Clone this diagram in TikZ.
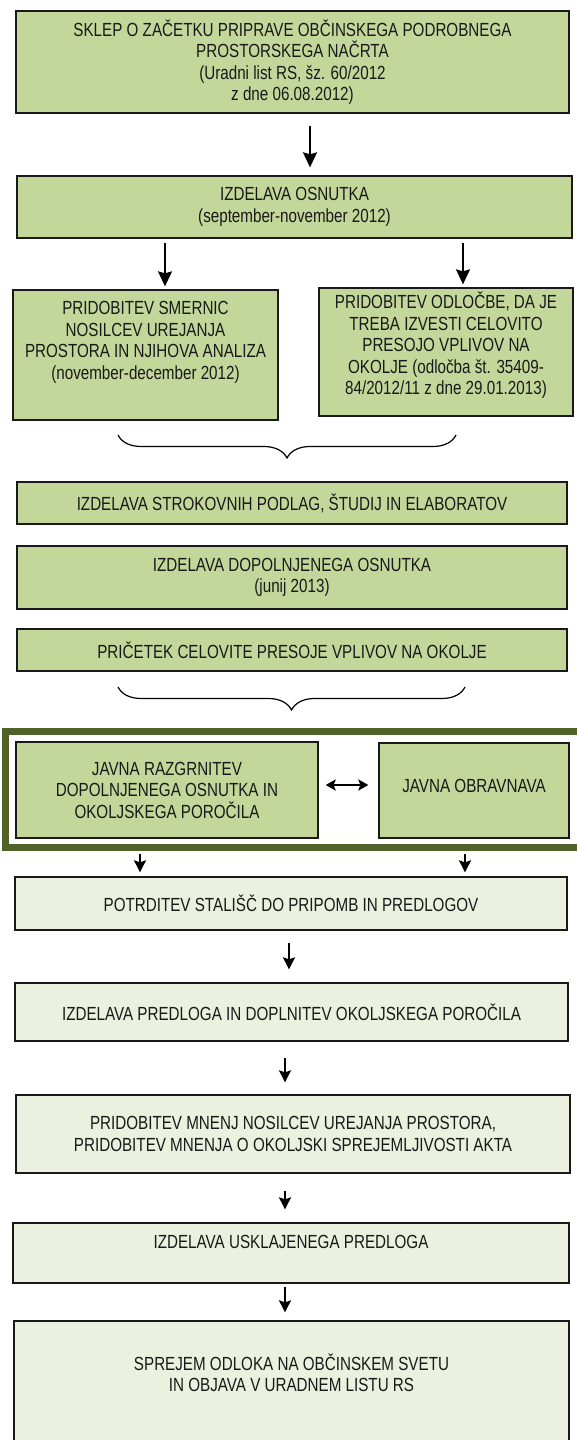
\documentclass[tikz,border=0pt]{standalone}
\usepackage{fontspec}
\setmainfont{Liberation Sans}[FakeStretch=0.8]
\usetikzlibrary{arrows.meta,decorations.pathreplacing}
\definecolor{zelena}{RGB}{196,215,155}
\definecolor{svetla}{RGB}{235,241,222}
\definecolor{okvir}{RGB}{79,98,40}
\definecolor{rob}{RGB}{25,25,25}
\begin{document}
\begin{tikzpicture}[x=1pt,y=-1pt,
    korak/.style={draw=rob,line width=1.3pt,fill=zelena,align=center,inner sep=0pt,
      text=rob,font=\fontsize{19}{21.5}\selectfont},
    svetel/.style={korak,fill=svetla},
    puscica/.style={-{Stealth[length=12pt,width=12pt,inset=2pt]},line width=2pt},
    velika/.style={puscica,-{Stealth[length=15pt,width=14pt,inset=2pt]}},
    dvojna/.style={{Stealth[length=10pt,width=11pt,inset=2pt]}-{Stealth[length=10pt,width=11pt,inset=2pt]},line width=2pt},
    zavit/.style={decorate,decoration={brace,amplitude=23pt},line width=1.2pt}]
    \useasboundingbox (0,0) rectangle (576,1440);

    \node[korak,minimum width=553pt,minimum height=102pt] (sklep) at (292.5,62)
        {SKLEP O ZAČETKU PRIPRAVE OBČINSKEGA PODROBNEGA\\ PROSTORSKEGA NAČRTA\\
         (Uradni list RS, šz. 60/2012\\ z dne 06.08.2012)};
    \node[korak,minimum width=555pt,minimum height=62pt] (osnutek) at (294.5,207)
        {IZDELAVA OSNUTKA\\ (september-november 2012)};
    \node[korak,minimum width=265pt,minimum height=130pt] (smernice) at (145.5,355)
        {PRIDOBITEV SMERNIC\\ NOSILCEV UREJANJA\\ PROSTORA IN NJIHOVA ANALIZA\\
         (november-december 2012)\\[8pt] \mbox{}};
    \node[korak,minimum width=254pt,minimum height=128pt] (odlocba) at (446,352)
        {PRIDOBITEV ODLOČBE, DA JE\\ TREBA IZVESTI CELOVITO\\ PRESOJO VPLIVOV NA\\
         OKOLJE (odločba št. 35409-\\ 84/2012/11 z dne 29.01.2013)\\[-4pt] \mbox{}};
    \node[korak,minimum width=550pt,minimum height=42pt] (podlage) at (292,503)
        {IZDELAVA STROKOVNIH PODLAG, ŠTUDIJ IN ELABORATOV};
    \node[korak,minimum width=550pt,minimum height=63pt] (dopolnjen) at (292,577.5)
        {IZDELAVA DOPOLNJENEGA OSNUTKA\\ (junij 2013)};
    \node[korak,minimum width=550pt,minimum height=42pt] (pricetek) at (292,650)
        {PRIČETEK CELOVITE PRESOJE VPLIVOV NA OKOLJE};

    \node[draw=okvir,line width=7pt,minimum width=594.5pt,minimum height=116pt] (javno) at (302.75,789.5) {};
    \node[korak,minimum width=302pt,minimum height=96pt] (razgrnitev) at (167,790)
        {JAVNA RAZGRNITEV\\ DOPOLNJENEGA OSNUTKA IN\\ OKOLJSKEGA POROČILA};
    \node[korak,minimum width=190pt,minimum height=95pt] (obravnava) at (474,790.5)
        {JAVNA OBRAVNAVA\\[-12pt] \mbox{}};

    \node[svetel,minimum width=552pt,minimum height=53pt] (stalisca) at (291,903.5)
        {POTRDITEV STALIŠČ DO PRIPOMB IN PREDLOGOV};
    \node[svetel,minimum width=553pt,minimum height=58pt] (predlog) at (291.5,1012)
        {IZDELAVA PREDLOGA IN DOPLNITEV OKOLJSKEGA POROČILA};
    \node[svetel,minimum width=554pt,minimum height=78pt] (mnenja) at (293,1134)
        {PRIDOBITEV MNENJ NOSILCEV UREJANJA PROSTORA,\\
         PRIDOBITEV MNENJA O OKOLJSKI SPREJEMLJIVOSTI AKTA};
    \node[svetel,minimum width=556pt,minimum height=60pt] (usklajen) at (291,1253)
        {IZDELAVA USKLAJENEGA PREDLOGA\\ \mbox{}};
    \node[svetel,minimum width=555pt,minimum height=129pt] (sprejem) at (291.5,1385.5)
        {SPREJEM ODLOKA NA OBČINSKEM SVETU\\ IN OBJAVA V URADNEM LISTU RS\\[4pt] \mbox{}};

    \coordinate (z1d) at (456,435);
    \coordinate (z1l) at (118,435);
    \coordinate (z2d) at (465,687);
    \coordinate (z2l) at (118,687);

    \draw [velika,shorten <=12pt,shorten >=8pt] (sklep.south -| 310,0) -- (osnutek.north -| 310,0);
    \draw [velika,shorten <=4pt,shorten >=3pt] (osnutek.south -| 165,0) -- (smernice.north -| 165,0);
    \draw [velika,shorten <=4pt,shorten >=3pt] (osnutek.south -| 463,0) -- (odlocba.north -| 463,0);
    \draw [zavit] (z1d) -- (z1l);
    \draw [zavit] (z2d) -- (z2l);
    \draw [dvojna,shorten <=7pt,shorten >=10pt] (razgrnitev.east |- 0,785) -- (obravnava.west |- 0,785);
    \draw [puscica,shorten <=3pt,shorten >=4pt] (javno.south -| 140,0) -- (stalisca.north -| 140,0);
    \draw [puscica,shorten <=3pt,shorten >=4pt] (javno.south -| 465,0) -- (stalisca.north -| 465,0);
    \draw [puscica,shorten <=12pt,shorten >=13pt] (stalisca.south -| 289,0) -- (predlog.north -| 289,0);
    \draw [puscica,shorten <=16pt,shorten >=12pt] (predlog.south -| 285,0) -- (mnenja.north -| 285,0);
    \draw [puscica,shorten <=17pt,shorten >=13pt] (mnenja.south -| 285,0) -- (usklajen.north -| 285,0);
    \draw [puscica,shorten <=3pt,shorten >=8pt] (usklajen.south -| 285,0) -- (sprejem.north -| 285,0);
\end{tikzpicture}
\end{document}
